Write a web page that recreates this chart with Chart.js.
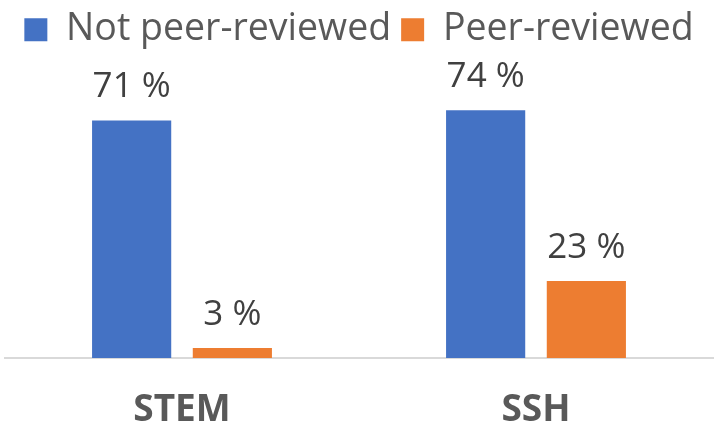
<!DOCTYPE html>
<html>
<head>
<meta charset="utf-8">
<script src="https://cdn.jsdelivr.net/npm/chart.js@4"></script>
<style>
  html, body { margin: 0; padding: 0; background: #fff; }
  #wrap { width: 726px; height: 428px; }
</style>
</head>
<body>
<div id="wrap"><canvas id="peerChart" width="726" height="428"></canvas></div>
<script>
// Data
const categories = ['STEM', 'SSH'];
const notPeerReviewed = [71, 74];
const peerReviewed = [3, 23];
const seriesNames = ['Not peer-reviewed', 'Peer-reviewed'];

const FONT = '"Open Sans", Lato, sans-serif';
const TEXT = '#595959';

// value labels above each bar, e.g. "71 %"
const barLabels = {
    id: 'barLabels',
    afterDatasetsDraw(chart) {
        const ctx = chart.ctx;
        ctx.save();
        ctx.font = '35px ' + FONT;
        ctx.fillStyle = '#404040';
        ctx.textAlign = 'center';
        ctx.textBaseline = 'alphabetic';
        chart.data.datasets.forEach((ds, i) => {
            chart.getDatasetMeta(i).data.forEach((bar, j) => {
                ctx.fillText(ds.data[j] + ' %', bar.x, bar.y - 23);
            });
        });
        ctx.restore();
    }
};

new Chart(document.getElementById('peerChart'), {
    type: 'bar',
    data: {
        labels: categories,
        datasets: [
            {
                label: seriesNames[0],
                data: notPeerReviewed,
                backgroundColor: '#4472C4',
                categoryPercentage: 0.569,
                barPercentage: 0.786
            },
            {
                label: seriesNames[1],
                data: peerReviewed,
                backgroundColor: '#ED7D31',
                categoryPercentage: 0.569,
                barPercentage: 0.786
            }
        ]
    },
    options: {
        responsive: false,
        animation: false,
        layout: { padding: { left: 5, right: 13, top: 1, bottom: 0 } },
        plugins: {
            legend: {
                display: true,
                position: 'top',
                labels: {
                    boxWidth: 23,
                    boxHeight: 23,
                    padding: 10,
                    color: TEXT,
                    font: { family: FONT, size: 37.5 }
                }
            },
            tooltip: { enabled: false }
        },
        scales: {
            x: {
                grid: { display: false, drawTicks: false },
                border: { display: true, color: '#d9d9d9', width: 2 },
                ticks: {
                    color: TEXT,
                    padding: 30,
                    font: { family: FONT, size: 37, weight: 'bold' }
                },
                afterFit(scale) {
                    scale.height = 70;
                }
            },
            y: {
                display: false,
                min: 0,
                max: 89.5
            }
        }
    },
    plugins: [barLabels]
});
</script>
</body>
</html>
